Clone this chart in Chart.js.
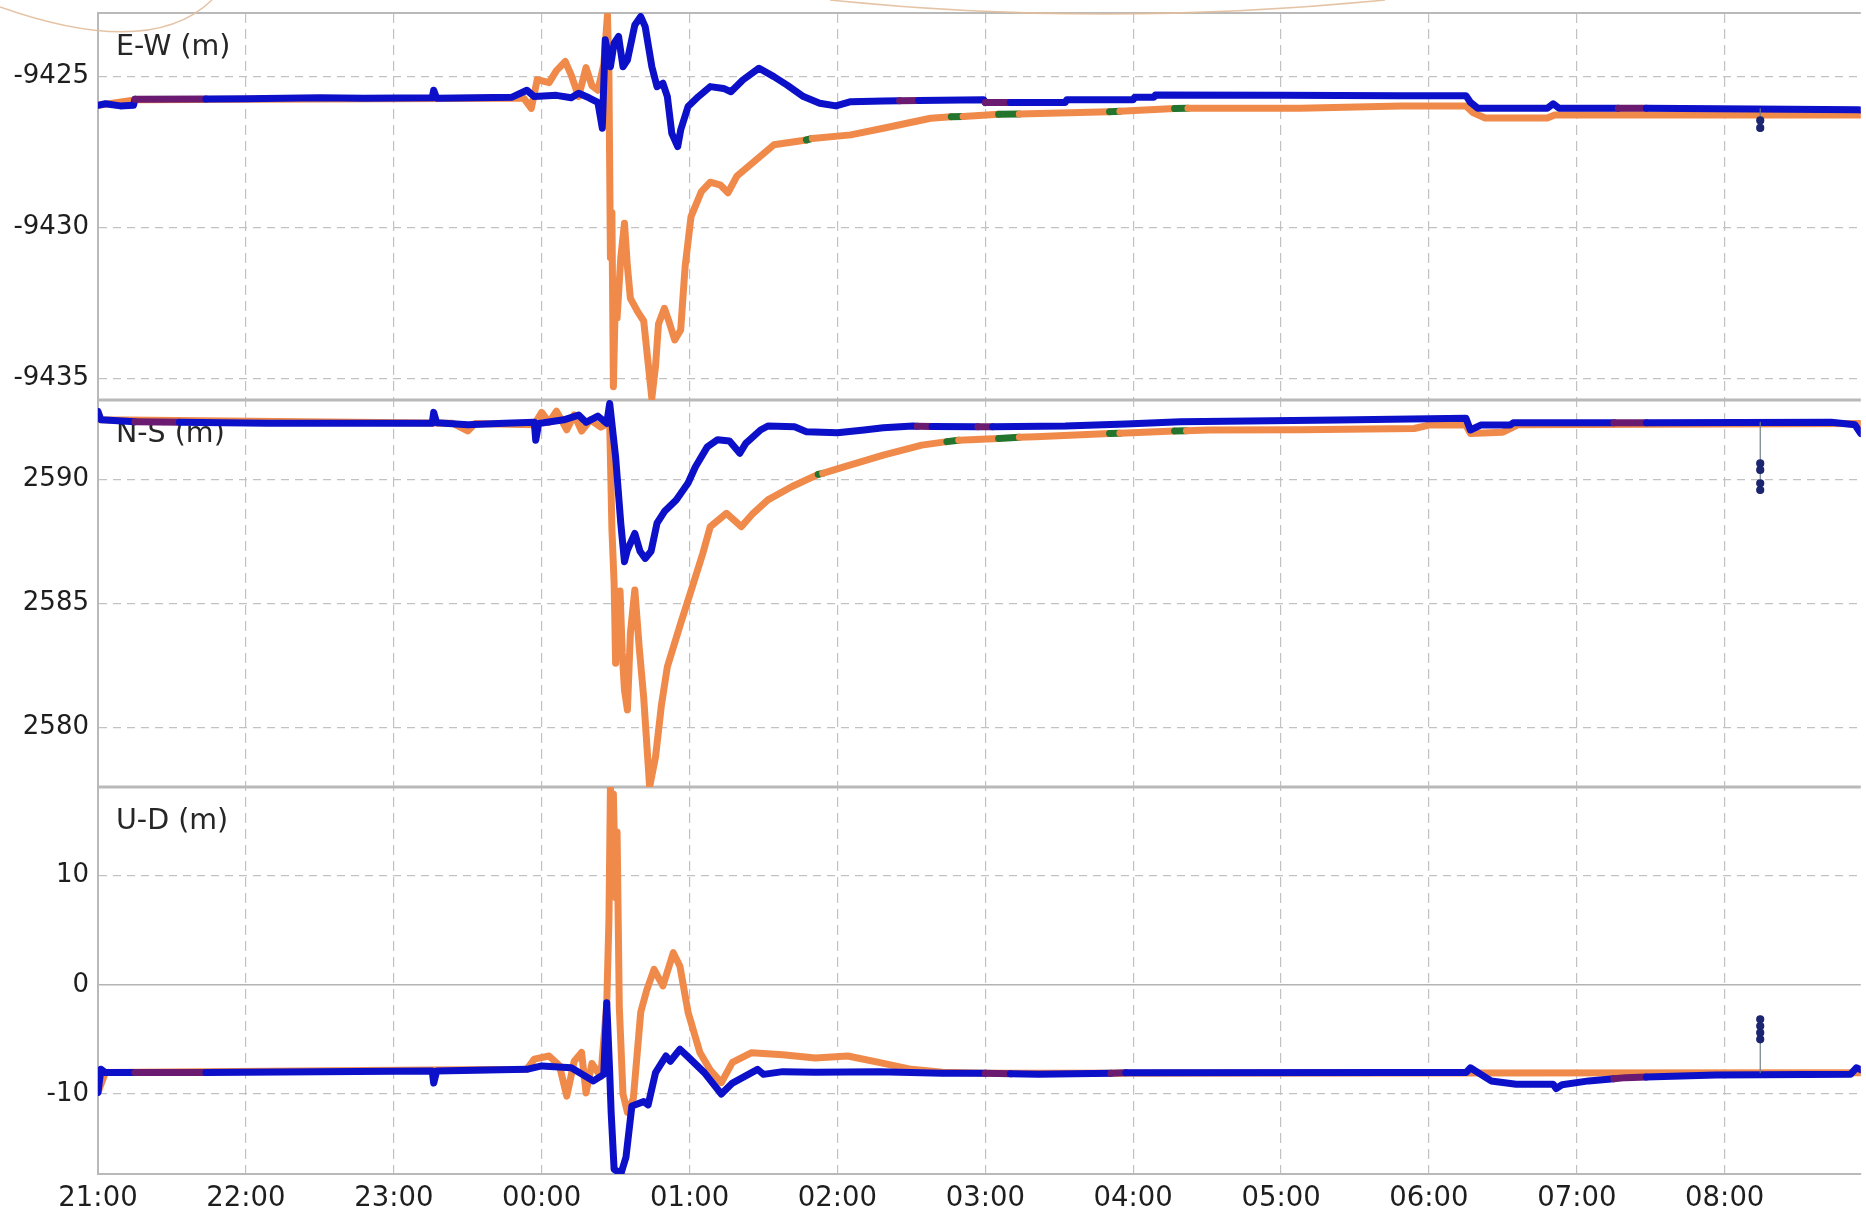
<!DOCTYPE html>
<html>
<head>
<meta charset="utf-8">
<title>E-W / N-S / U-D</title>
<script src="https://cdn.jsdelivr.net/npm/chart.js@4.4.1/dist/chart.umd.min.js"></script>
<style>
  html, body { margin: 0; padding: 0; background: #fff; }
  #wrap { width: 1866px; height: 1213px; }
</style>
</head>
<body>
<div id="wrap"><canvas id="chart" width="1866" height="1213"></canvas></div>
<script>
// x values are hours after 21:00
const timeLabels = ['21:00', '22:00', '23:00', '00:00', '01:00', '02:00',
  '03:00', '04:00', '05:00', '06:00', '07:00', '08:00'];
const xMax = 11.92;

const ewTicks = [-9435, -9430, -9425];
const nsTicks = [2580, 2585, 2590];
const udTicks = [-10, 0, 10];
const panelTitles = ['E-W (m)', 'N-S (m)', 'U-D (m)'];

// E-W (m)
const ewBlue = [[0,-9425.95],[0.05,-9425.9],[0.15,-9425.97],[0.24,-9425.95],[0.25,-9425.75],
  [0.73,-9425.74],[1.0,-9425.73],[1.5,-9425.7],[1.8,-9425.72],[2.26,-9425.7],[2.27,-9425.45],
  [2.29,-9425.72],[2.8,-9425.68],[2.9,-9425.45],[2.95,-9425.66],[3.1,-9425.62],[3.2,-9425.7],
  [3.25,-9425.55],[3.32,-9425.7],[3.38,-9425.85],[3.41,-9426.71],[3.43,-9423.78],[3.465,-9424.67],
  [3.49,-9423.89],[3.52,-9423.67],[3.55,-9424.67],[3.58,-9424.45],[3.63,-9423.29],[3.67,-9423.01],
  [3.7,-9423.34],[3.745,-9424.67],[3.78,-9425.33],[3.82,-9425.22],[3.85,-9425.66],[3.88,-9426.88],
  [3.92,-9427.32],[3.94,-9426.77],[3.99,-9425.99],[4.06,-9425.66],[4.14,-9425.33],[4.23,-9425.39],
  [4.28,-9425.5],[4.36,-9425.11],[4.47,-9424.72],[4.57,-9425.0],[4.66,-9425.28],[4.77,-9425.66],
  [4.88,-9425.88],[4.99,-9425.97],[5.09,-9425.83],[5.31,-9425.81],[5.42,-9425.8],[5.55,-9425.79],
  [5.99,-9425.77],[6.0,-9425.86],[6.17,-9425.86],[6.54,-9425.86],[6.55,-9425.77],[7.0,-9425.77],
  [7.01,-9425.68],[7.14,-9425.68],[7.15,-9425.61],[8.0,-9425.62],[8.8,-9425.63],[9.25,-9425.63],
  [9.28,-9425.85],[9.33,-9426.05],[9.8,-9426.05],[9.84,-9425.9],[9.88,-9426.05],[10.28,-9426.05],
  [10.47,-9426.05],[11.2,-9426.07],[11.9,-9426.1],[11.96,-9426.12]];
const ewOrange = [[0,-9425.95],[0.25,-9425.77],[2.8,-9425.72],[2.88,-9425.72],[2.93,-9426.05],
  [2.97,-9425.1],[3.05,-9425.2],[3.1,-9424.8],[3.16,-9424.5],[3.2,-9424.95],[3.25,-9425.66],
  [3.3,-9424.7],[3.34,-9425.3],[3.38,-9425.45],[3.42,-9424.6],[3.445,-9422.95],[3.455,-9425.0],
  [3.465,-9431.0],[3.475,-9429.5],[3.485,-9435.28],[3.5,-9432.0],[3.51,-9433.0],[3.535,-9431.0],
  [3.56,-9429.86],[3.58,-9431.3],[3.6,-9432.35],[3.65,-9432.8],[3.69,-9433.1],[3.72,-9434.5],
  [3.745,-9435.66],[3.77,-9434.6],[3.79,-9433.2],[3.83,-9432.68],[3.86,-9433.1],[3.9,-9433.73],
  [3.94,-9433.4],[3.97,-9431.3],[4.01,-9429.64],[4.08,-9428.81],[4.14,-9428.5],[4.21,-9428.6],
  [4.26,-9428.85],[4.32,-9428.3],[4.45,-9427.76],[4.57,-9427.26],[4.79,-9427.1],[4.83,-9427.05],
  [5.09,-9426.93],[5.31,-9426.71],[5.63,-9426.38],[5.77,-9426.33],[5.85,-9426.32],[6.09,-9426.25],
  [6.23,-9426.24],[6.84,-9426.16],[6.91,-9426.15],[7.28,-9426.06],[7.37,-9426.05],[8.13,-9426.05],
  [8.81,-9425.97],[9.25,-9425.97],[9.3,-9426.2],[9.38,-9426.37],[9.8,-9426.37],[9.85,-9426.27],
  [11.96,-9426.27]];
const ewSpike = [[11.24,-9426.07],[11.24,-9426.45],[11.24,-9426.7]];

// N-S (m)
const nsBlue = [[0,2592.73],[0.02,2592.4],[0.25,2592.32],[0.55,2592.3],[1.15,2592.26],[2.26,2592.26],
  [2.27,2592.7],[2.29,2592.28],[2.5,2592.2],[2.75,2592.26],[2.95,2592.3],[2.96,2591.58],[2.98,2592.25],
  [3.15,2592.4],[3.25,2592.59],[3.3,2592.3],[3.38,2592.55],[3.44,2592.26],[3.46,2593.06],[3.5,2590.91],
  [3.535,2588.23],[3.56,2586.68],[3.58,2587.15],[3.63,2587.82],[3.665,2587.1],[3.7,2586.81],
  [3.74,2587.1],[3.78,2588.23],[3.83,2588.7],[3.91,2589.17],[3.99,2589.85],[4.04,2590.51],
  [4.12,2591.31],[4.19,2591.6],[4.27,2591.55],[4.34,2591.05],[4.38,2591.45],[4.48,2591.99],
  [4.53,2592.15],[4.71,2592.12],[4.79,2591.92],[5.0,2591.88],[5.18,2591.99],[5.31,2592.08],
  [5.51,2592.15],[5.54,2592.14],[5.64,2592.13],[5.95,2592.12],[6.05,2592.12],[6.54,2592.15],
  [6.95,2592.23],[7.32,2592.32],[8.38,2592.39],[9.25,2592.46],[9.28,2591.99],[9.35,2592.19],
  [9.55,2592.19],[9.57,2592.28],[10.25,2592.28],[10.47,2592.28],[11.72,2592.3],[11.88,2592.2],
  [11.92,2591.85],[11.96,2591.95]];
const nsOrange = [[0,2592.73],[0.02,2592.4],[2.4,2592.26],[2.5,2591.95],[2.55,2592.25],[2.95,2592.2],
  [3.0,2592.7],[3.05,2592.3],[3.1,2592.75],[3.17,2592.0],[3.22,2592.6],[3.27,2591.95],[3.33,2592.4],
  [3.4,2592.1],[3.46,2592.3],[3.475,2588.0],[3.49,2585.8],[3.5,2582.58],[3.515,2584.5],[3.53,2585.5],
  [3.545,2583.0],[3.56,2581.5],[3.58,2580.7],[3.6,2583.8],[3.63,2585.54],[3.66,2583.2],[3.69,2581.2],
  [3.73,2577.6],[3.77,2578.8],[3.81,2580.9],[3.85,2582.44],[3.94,2584.19],[4.01,2585.5],[4.09,2587.02],
  [4.14,2588.09],[4.25,2588.63],[4.35,2588.09],[4.43,2588.63],[4.53,2589.17],[4.69,2589.7],
  [4.87,2590.2],[4.9,2590.24],[5.05,2590.51],[5.31,2590.98],[5.57,2591.38],[5.74,2591.52],
  [5.82,2591.58],[6.09,2591.65],[6.23,2591.7],[6.34,2591.72],[6.84,2591.85],[6.91,2591.86],
  [7.28,2591.95],[7.36,2591.96],[7.51,2591.99],[8.13,2592.0],[8.9,2592.05],[9.0,2592.19],
  [9.25,2592.19],[9.28,2591.85],[9.5,2591.9],[9.6,2592.2],[11.96,2592.25]];
const nsSpike = [[11.24,2592.3],[11.24,2590.64],[11.24,2590.38],[11.24,2589.84],[11.24,2589.57]];

// U-D (m)
const udBlue = [[0,-9.85],[0.02,-7.74],[0.05,-8.04],[0.25,-8.04],[0.73,-8.04],[1.5,-7.95],[2.26,-7.9],
  [2.27,-9.0],[2.29,-7.9],[2.9,-7.74],[3.0,-7.43],[3.2,-7.6],[3.35,-8.8],[3.42,-8.2],[3.44,-1.63],
  [3.46,-8.0],[3.47,-11.7],[3.49,-16.9],[3.536,-17.3],[3.57,-15.8],[3.61,-11.1],[3.69,-10.7],
  [3.72,-11.0],[3.77,-8.04],[3.84,-6.52],[3.87,-7.0],[3.935,-5.9],[3.99,-6.6],[4.1,-8.04],
  [4.215,-10.0],[4.29,-9.0],[4.46,-7.74],[4.5,-8.2],[4.63,-7.95],[4.85,-8.0],[5.28,-7.95],
  [5.71,-8.1],[6.0,-8.1],[6.17,-8.15],[6.36,-8.2],[6.85,-8.1],[6.95,-8.05],[8.8,-8.04],[9.25,-8.04],
  [9.28,-7.6],[9.42,-8.8],[9.59,-9.1],[9.84,-9.1],[9.86,-9.5],[9.9,-9.15],[10.08,-8.8],[10.25,-8.6],
  [10.33,-8.5],[10.47,-8.45],[10.94,-8.25],[11.85,-8.2],[11.89,-7.6],[11.96,-8.0]];
const udOrange = [[0,-9.85],[0.05,-8.04],[2.9,-7.74],[2.95,-6.8],[3.05,-6.52],[3.12,-7.4],[3.17,-10.19],
  [3.22,-7.0],[3.27,-6.2],[3.3,-9.9],[3.34,-7.2],[3.4,-8.4],[3.44,-1.76],[3.455,6],[3.465,18.1],
  [3.475,11],[3.485,17.5],[3.5,8],[3.51,14],[3.525,-2.0],[3.55,-10.0],[3.58,-11.7],[3.62,-10.4],
  [3.67,-2.5],[3.71,-0.5],[3.76,1.42],[3.82,-0.1],[3.89,2.95],[3.935,1.7],[3.99,-2.5],[4.07,-6.2],
  [4.14,-7.8],[4.215,-8.96],[4.29,-7.1],[4.42,-6.21],[4.63,-6.4],[4.85,-6.7],[5.07,-6.52],[5.28,-7.1],
  [5.5,-7.74],[5.71,-8.0],[6.0,-8.1],[11.96,-8.05]];
const udSpike = [[11.24,-8.04],[11.24,-3.16],[11.24,-3.77],[11.24,-4.38],[11.24,-4.99]];

// short stretches drawn in another colour (hours)
const purpleSpans = {
  ew: [[0.25,0.73],[5.42,5.55],[6.0,6.17],[10.28,10.47]],
  ns: [[0.25,0.55],[5.54,5.64],[5.95,6.05],[10.25,10.47]],
  ud: [[0.25,0.73],[6.0,6.17],[6.85,6.95],[10.25,10.47]]
};
const greenSpans = {
  ew: [[4.79,4.83],[5.77,5.85],[6.09,6.23],[6.84,6.91],[7.28,7.37]],
  ns: [[4.87,4.9],[5.74,5.82],[6.09,6.23],[6.84,6.91],[7.28,7.36]],
  ud: []
};

const BLUE = '#0c10c8';
const ORANGE = '#f08a4b';
const PURPLE = '#6a1a70';
const GREEN = '#23742c';
const GRID = '#c2c2c2';
const FRAME = '#b9b9b9';

const toXY = rows => rows.map(r => ({ x: r[0], y: r[1] }));

function spanColor(spans, color) {
  return c => {
    const mid = (c.p0.parsed.x + c.p1.parsed.x) / 2;
    return spans.some(s => mid > s[0] && mid < s[1]) ? color : undefined;
  };
}

function series(rows, axis, color, spans, spanCol, order) {
  return {
    data: toXY(rows),
    yAxisID: axis,
    borderColor: color,
    borderWidth: 7,
    pointRadius: 0,
    order: order,
    segment: { borderColor: spanColor(spans, spanCol) }
  };
}

function spike(rows, axis) {
  return {
    data: toXY(rows),
    yAxisID: axis,
    borderColor: '#6f7f86',
    borderWidth: 1.2,
    pointRadius: rows.map((r, i) => i === 0 ? 0 : 3.5),
    pointBackgroundColor: '#1c2570',
    pointBorderColor: '#1c2570',
    order: 0
  };
}

function noPadding(s) {
  s.paddingTop = 0;
  s.paddingBottom = 0;
  s.paddingLeft = 0;
  s.paddingRight = 0;
}

function yScale(id, ticks, min, max, weight) {
  return {
    type: 'linear',
    position: 'left',
    stack: 'panels',
    stackWeight: 1,
    weight: weight,
    min: min,
    max: max,
    afterBuildTicks: s => { s.ticks = ticks.map(v => ({ value: v })); },
    afterFit: s => { s.width = 98; noPadding(s); },
    ticks: { color: '#1e1e1e', font: { size: 26 }, padding: 9, callback: v => String(v) },
    grid: {
      color: c => (c.tick && c.tick.value === 0) ? '#b4b4b4' : GRID,
      lineWidth: c => (c.tick && c.tick.value === 0) ? 1.6 : 1.2,
      drawTicks: false
    },
    border: {
      display: true,
      color: FRAME,
      width: 2,
      dash: c => (c.tick && c.tick.value === 0) ? [] : [8, 6]
    }
  };
}

// panel titles, panel frame lines and the faint slide arcs
const panelDecor = {
  id: 'panelDecor',
  beforeDatasetsDraw(chart) {
    const { ctx, chartArea } = chart;
    ctx.save();
    ['yEW', 'yNS', 'yUD'].forEach((id, i) => {
      const s = chart.scales[id];
      ctx.strokeStyle = FRAME;
      ctx.lineWidth = i === 0 ? 2 : 3;
      ctx.beginPath();
      ctx.moveTo(chartArea.left, s.top);
      ctx.lineTo(chartArea.right, s.top);
      ctx.stroke();
      ctx.fillStyle = '#262626';
      ctx.font = '28.5px "DejaVu Sans"';
      ctx.textAlign = 'left';
      ctx.textBaseline = 'alphabetic';
      ctx.fillText(panelTitles[i], chartArea.left + 18, s.top + 42);
    });
    ctx.restore();
  },
  afterDraw(chart) {
    const { ctx } = chart;
    ctx.save();
    ctx.strokeStyle = 'rgba(226,188,155,0.9)';
    ctx.lineWidth = 1.5;
    ctx.beginPath();
    ctx.moveTo(0, 7);
    ctx.quadraticCurveTo(150, 60, 212, 0);
    ctx.stroke();
    ctx.beginPath();
    ctx.moveTo(830, 0);
    ctx.quadraticCurveTo(1100, 28, 1385, 0);
    ctx.stroke();
    ctx.restore();
  }
};

Chart.defaults.font.family = '"DejaVu Sans", sans-serif';

new Chart(document.getElementById('chart'), {
  type: 'line',
  data: {
    datasets: [
      spike(ewSpike, 'yEW'),
      spike(nsSpike, 'yNS'),
      spike(udSpike, 'yUD'),
      series(ewBlue, 'yEW', BLUE, purpleSpans.ew, PURPLE, 1),
      series(nsBlue, 'yNS', BLUE, purpleSpans.ns, PURPLE, 1),
      series(udBlue, 'yUD', BLUE, purpleSpans.ud, PURPLE, 1),
      series(ewOrange, 'yEW', ORANGE, greenSpans.ew, GREEN, 2),
      series(nsOrange, 'yNS', ORANGE, greenSpans.ns, GREEN, 2),
      series(udOrange, 'yUD', ORANGE, greenSpans.ud, GREEN, 2)
    ]
  },
  options: {
    responsive: false,
    animation: false,
    devicePixelRatio: 1,
    layout: { padding: { top: 13, right: 0, left: 0, bottom: 0 } },
    elements: { line: { tension: 0, borderJoinStyle: 'round', borderCapStyle: 'round' } },
    plugins: { legend: { display: false }, tooltip: { enabled: false } },
    scales: {
      x: {
        type: 'linear',
        position: 'bottom',
        min: 0,
        max: xMax,
        afterBuildTicks: s => { s.ticks = timeLabels.map((_, i) => ({ value: i })); },
        afterFit: s => { s.height = 39; noPadding(s); },
        ticks: {
          color: '#1e1e1e',
          font: { size: 27.5 },
          padding: 8,
          maxRotation: 0,
          autoSkip: false,
          callback: v => timeLabels[Math.round(v)]
        },
        grid: { color: GRID, lineWidth: 1.2, drawTicks: false },
        border: { display: true, color: FRAME, width: 2, dash: [10, 6] }
      },
      yUD: yScale('yUD', udTicks, -17.33, 18.13, 1),
      yNS: yScale('yNS', nsTicks, 2577.59, 2593.2, 2),
      yEW: yScale('yEW', ewTicks, -9435.72, -9422.89, 3)
    }
  },
  plugins: [panelDecor]
});
</script>
</body>
</html>
